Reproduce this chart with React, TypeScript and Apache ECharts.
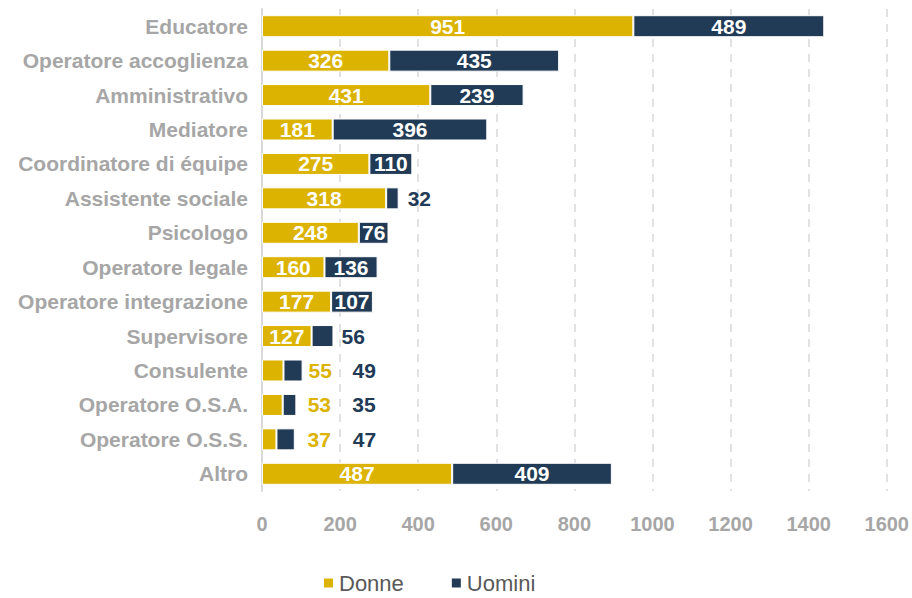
import React, { useEffect, useRef } from "react";
import * as echarts from "echarts";

const categories = [
  "Educatore",
  "Operatore accoglienza",
  "Amministrativo",
  "Mediatore",
  "Coordinatore di équipe",
  "Assistente sociale",
  "Psicologo",
  "Operatore legale",
  "Operatore integrazione",
  "Supervisore",
  "Consulente",
  "Operatore O.S.A.",
  "Operatore O.S.S.",
  "Altro",
];
const donne = [951, 326, 431, 181, 275, 318, 248, 160, 177, 127, 55, 53, 37, 487];
const uomini = [489, 435, 239, 396, 110, 32, 76, 136, 107, 56, 49, 35, 47, 409];

// distance of outside labels from the bar end (null = label inside)
const donneOutside: (number | null)[] = [null, null, null, null, null, null, null, null, null, null, 25, 25, 31, null];
const uominiOutside: (number | null)[] = [null, null, null, null, null, 9, null, null, null, 8, 50, 56, 58, null];

const YELLOW = "#DBB300";
const NAVY = "#213A55";
const GRAY = "#A6A6A6";
const FONT = "'Liberation Sans', Arial, sans-serif";

function buildData(values: number[], outside: (number | null)[], color: string) {
  return values.map((v, i) => {
    const d = outside[i];
    if (d === null) return { value: v };
    return {
      value: v,
      label: { position: "right", distance: d, color },
    };
  });
}

export default function App() {
  const ref = useRef<HTMLDivElement>(null);
  useEffect(() => {
    if (!ref.current) return;
    const chart = echarts.init(ref.current, undefined, { renderer: "svg" });
    const labelBase = {
      show: true,
      position: "inside",
      color: "#FFFFFF",
      fontSize: 21,
      fontWeight: "bold",
      fontFamily: FONT,
    };
    chart.setOption({
      animation: false,
      textStyle: { fontFamily: FONT },
      grid: { left: 262, right: 20, top: 9, bottom: 107, containLabel: false },
      legend: {
        data: ["Donne", "Uomini"],
        left: 317,
        top: 567,
        icon: "rect",
        itemWidth: 11,
        itemHeight: 11,
        itemGap: 46,
        textStyle: { fontSize: 22, color: "#595959", fontFamily: FONT },
      },
      xAxis: {
        type: "value",
        min: 0,
        max: 1600,
        interval: 200,
        axisLine: { show: false },
        axisTick: { show: false },
        splitLine: { show: true, lineStyle: { color: "#D9D9D9", width: 1.5, type: [8, 7] } },
        axisLabel: {
          color: GRAY,
          fontSize: 20,
          fontWeight: "bold",
          margin: 23,
          fontFamily: FONT,
          formatter: (v: number) => String(v),
        },
      },
      yAxis: {
        type: "category",
        inverse: true,
        data: categories,
        axisLine: { show: true, lineStyle: { color: "#D9D9D9", width: 2 } },
        axisTick: { show: false },
        axisLabel: { color: GRAY, fontSize: 21, fontWeight: "bold", margin: 14, fontFamily: FONT },
      },
      series: [
        {
          name: "Donne",
          type: "bar",
          stack: "total",
          barWidth: 22,
          itemStyle: { color: YELLOW, borderColor: "#FFFFFF", borderWidth: 1 },
          label: labelBase,
          data: buildData(donne, donneOutside, YELLOW),
        },
        {
          name: "Uomini",
          type: "bar",
          stack: "total",
          barWidth: 22,
          itemStyle: { color: NAVY, borderColor: "#FFFFFF", borderWidth: 1 },
          label: labelBase,
          data: buildData(uomini, uominiOutside, NAVY),
        },
      ],
    });
    return () => chart.dispose();
  }, []);
  return (
    <div
      ref={ref}
      style={{ position: "fixed", left: 0, top: 0, width: 912, height: 598, background: "#FFFFFF" }}
    />
  );
}
